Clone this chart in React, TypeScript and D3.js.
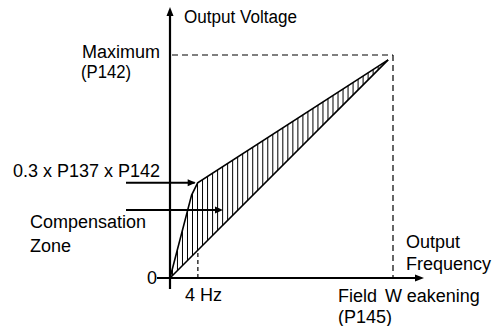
import React from "react";
import * as d3 from "d3";

// Frequency in Hz, voltage in % of maximum (P142)
const fieldWeakeningHz = 32;
const boostEndHz = 4;
const upperCurveHz = [0, 3.1, 3.97, 31.3];
const upperCurveV = [0, 37.2, 42.7, 97.8];
const lowerCurveHz = [0, 31.3];
const lowerCurveV = [0, 97.8];
const maxVoltage = 100;

const W = 502;
const H = 326;
const FONT = "'Liberation Sans', Arial, sans-serif";

export default function App() {
  const x = d3.scaleLinear().domain([0, fieldWeakeningHz]).range([170, 393]);
  const y = d3.scaleLinear().domain([0, maxVoltage]).range([278, 55]);

  const upper = upperCurveHz.map((f, i) => [f, upperCurveV[i]] as [number, number]);
  const lower = lowerCurveHz.map((f, i) => [f, lowerCurveV[i]] as [number, number]);
  const line = d3
    .line<[number, number]>()
    .x((d) => x(d[0]))
    .y((d) => y(d[1]));

  const interp = (pts: [number, number][], f: number) => {
    for (let i = 0; i < pts.length - 1; i++) {
      const [x0, y0] = pts[i];
      const [x1, y1] = pts[i + 1];
      if (f >= x0 && f <= x1) return y0 + ((y1 - y0) * (f - x0)) / (x1 - x0);
    }
    return pts[pts.length - 1][1];
  };

  const hatchF = d3.range(0.35, 31.1, 0.72);

  const x0 = x(0);
  const y0 = y(0);
  const xEnd = x(fieldWeakeningHz);
  const yMax = y(maxVoltage);
  const kinkX = x(upperCurveHz[2]);
  const kinkY = y(upperCurveV[2]);

  const textStyle = { fontFamily: FONT, fontSize: 18, fill: "#000" } as const;

  return (
    <svg width={W} height={H} style={{ position: "absolute", left: 0, top: 0 }}>
      <rect width={W} height={H} fill="#fff" />

      {/* hatching */}
      <g stroke="#000" strokeWidth={1}>
        {hatchF.map((f, i) => (
          <line key={i} x1={x(f)} x2={x(f)} y1={y(interp(lower, f))} y2={y(interp(upper, f))} />
        ))}
      </g>

      {/* curves */}
      <path d={line(upper) || ""} fill="none" stroke="#000" strokeWidth={1.6} />
      <path d={line(lower) || ""} fill="none" stroke="#000" strokeWidth={1.6} />

      {/* dashed guides */}
      <g stroke="#000" strokeWidth={1.2} strokeDasharray="6,4" fill="none">
        <line x1={x0 + 2} x2={xEnd} y1={yMax} y2={yMax} />
        <line x1={xEnd} x2={xEnd} y1={yMax} y2={y0} />
        <line x1={x(boostEndHz)} x2={x(boostEndHz)} y1={y0} y2={y(interp(lower, boostEndHz))} strokeDasharray="4,3" />
      </g>

      {/* axes */}
      <line x1={x0} x2={x0} y1={289} y2={14} stroke="#000" strokeWidth={2.2} />
      <path d={`M${x0},7 L${x0 - 3.5},16 L${x0 + 3.5},16 z`} fill="#000" />
      <line x1={157} x2={xEnd + 25} y1={y0} y2={y0} stroke="#000" strokeWidth={2.2} />
      <path d={`M${xEnd + 31},${y0} L${xEnd + 22},${y0 - 3.5} L${xEnd + 22},${y0 + 3.5} z`} fill="#000" />

      {/* annotation arrows */}
      <line x1={126} x2={kinkX - 3} y1={kinkY} y2={kinkY} stroke="#000" strokeWidth={2} />
      <path d={`M${kinkX - 2},${kinkY} L${kinkX - 10},${kinkY - 3.5} L${kinkX - 10},${kinkY + 3.5} z`} fill="#000" />
      <line x1={126} x2={218} y1={210} y2={210} stroke="#000" strokeWidth={2} />
      <path d={`M223,210 L215,206.5 L215,213.5 z`} fill="#000" />

      {/* text */}
      <text x={184} y={23} textLength={113} lengthAdjust="spacingAndGlyphs" style={textStyle}>Output Voltage</text>
      <text x={82} y={58} style={textStyle}>Maximum</text>
      <text x={81} y={78} textLength={50} lengthAdjust="spacingAndGlyphs" style={textStyle}>(P142)</text>
      <text x={160} y={177} textAnchor="end" style={textStyle}>0.3 x P137 x P142</text>
      <text x={30} y={228} style={textStyle}>Compensation</text>
      <text x={30} y={252} style={textStyle}>Zone</text>
      <text x={157} y={284} textAnchor="end" style={textStyle}>0</text>
      <text x={185} y={301} style={textStyle}>4 Hz</text>
      <text x={406} y={248} style={textStyle}>Output</text>
      <text x={406} y={270} style={textStyle}>Frequency</text>
      <text x={338} y={302} style={textStyle}>
        Field <tspan dx={3}>W</tspan><tspan dx={5}>eakening</tspan>
      </text>
      <text x={338} y={323} style={textStyle}>(P145)</text>
    </svg>
  );
}
